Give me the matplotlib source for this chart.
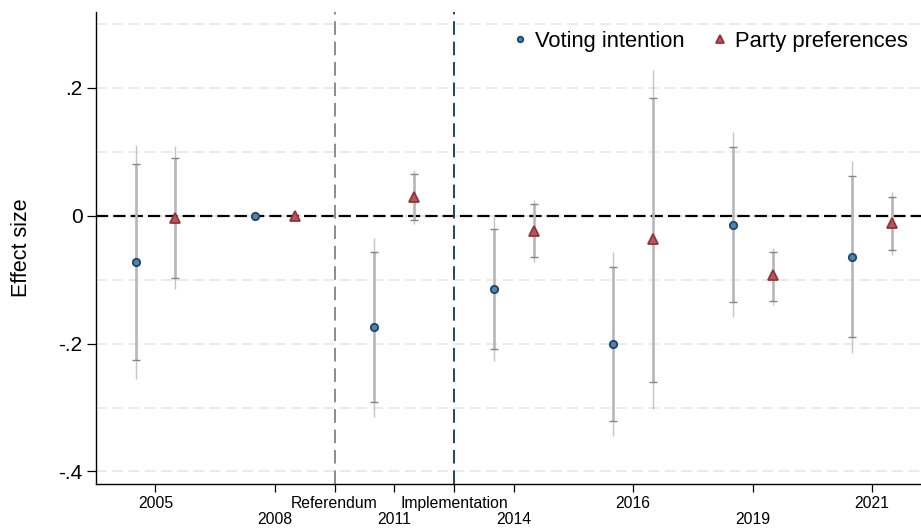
import numpy as np
import matplotlib.pyplot as plt

plt.rcParams['font.family'] = ['Liberation Sans', 'DejaVu Sans']

# positions of the survey years on the x axis
years = ["2005", "2008", "2011", "2014", "2016", "2019", "2021"]
pos = np.array([1, 2, 3, 4, 5, 6, 7])

# voting intention: estimate, inner (capped) and outer intervals
vote = [-0.073, 0.0, -0.174, -0.114, -0.201, -0.014, -0.064]
vote_lo_in = [-0.226, np.nan, -0.292, -0.208, -0.321, -0.135, -0.190]
vote_hi_in = [0.081, np.nan, -0.057, -0.020, -0.080, 0.108, 0.062]
vote_lo_out = [-0.256, np.nan, -0.315, -0.227, -0.345, -0.159, -0.214]
vote_hi_out = [0.111, np.nan, -0.034, -0.001, -0.057, 0.131, 0.086]

# party preferences
party = [-0.003, 0.0, 0.030, -0.023, -0.036, -0.093, -0.011]
party_lo_in = [-0.097, np.nan, -0.007, -0.065, -0.260, -0.133, -0.054]
party_hi_in = [0.090, np.nan, 0.065, 0.018, 0.184, -0.057, 0.030]
party_lo_out = [-0.115, np.nan, -0.013, -0.073, -0.303, -0.139, -0.062]
party_hi_out = [0.109, np.nan, 0.071, 0.025, 0.228, -0.051, 0.037]

events = ["Referendum", "Implementation"]
event_pos = [2.5, 3.5]
event_colors = ["#8c8c8c", "#1a476f"]

off = 1 / 6

fig = plt.figure(figsize=(9.21, 5.28), dpi=100)
ax = fig.add_axes([95.7 / 921, 44 / 528, 1 - 95.7 / 921, (484 - 11.7) / 528])

ax.set_xlim(0.5, 7.41)
ax.set_ylim(-0.4197, 0.3194)

# grid
for g in np.arange(-0.4, 0.31, 0.1):
    ax.axhline(g, color="#e8e8e8", lw=1.3, ls=(0, (6, 3)), zorder=0)
ax.axhline(0, color="black", lw=1.6, ls=(0, (5.5, 2.3)), zorder=1)
for xp, c in zip(event_pos, event_colors):
    ax.axvline(xp, color=c, lw=1.4, ls=(0, (7, 3.5)), zorder=1)


def draw(x, est, lo_in, hi_in, lo_out, hi_out, marker, fc, ec, ms, label):
    ax.vlines(x, lo_out, hi_out, color="#c4c4c4", lw=1.0, zorder=2)
    ax.vlines(x, lo_in, hi_in, color="#b8b8b8", lw=1.9, zorder=2)
    ax.plot(x, lo_in, ls="none", marker="_", ms=6, mew=1.0, color="#858585", zorder=3)
    ax.plot(x, hi_in, ls="none", marker="_", ms=6, mew=1.0, color="#858585", zorder=3)
    ax.plot(x, est, ls="none", marker=marker, ms=ms, mfc=fc, mec=ec, mew=1.3,
            zorder=4, label=label)


draw(pos - off, vote, vote_lo_in, vote_hi_in, vote_lo_out, vote_hi_out,
     "o", "#5a80aa", "#1a476f", 5.3, "Voting intention")
draw(pos + off, party, party_lo_in, party_hi_in, party_lo_out, party_hi_out,
     "^", "#b9555d", "#90353b", 7.0, "Party preferences")

# y axis
ax.set_yticks([-0.4, -0.2, 0, 0.2])
ax.set_yticklabels(["-.4", "-.2", "0", ".2"], fontsize=15)
ax.tick_params(axis="y", length=6.5, width=0.9, pad=3)
ax.set_ylabel("Effect size", fontsize=15.5, labelpad=19)

# x axis: two staggered rows of labels
row1 = [1, 2.5, 3.5, 5, 7]
row1_lab = ["2005", events[0], events[1], "2016", "2021"]
row2 = [2, 3, 4, 6]
row2_lab = ["2008", "2011", "2014", "2019"]
ax.set_xticks(row1)
ax.set_xticklabels(row1_lab, fontsize=11.3)
ax.set_xticks(row2, minor=True)
ax.set_xticklabels(row2_lab, minor=True, fontsize=11.3)
ax.tick_params(axis="x", which="major", length=5.8, width=0.9, pad=2.5)
ax.tick_params(axis="x", which="minor", length=5.8, width=0.9, pad=14)

for s in ["top", "right"]:
    ax.spines[s].set_visible(False)
ax.spines["left"].set_linewidth(1.0)
ax.spines["bottom"].set_linewidth(1.0)

ax.legend(loc="upper right", bbox_to_anchor=(0.984, 0.96), ncol=2,
          frameon=False, fontsize=15.8, markerscale=0.75, handlelength=0.8,
          handletextpad=0.3, columnspacing=1.2, borderpad=0,
          borderaxespad=0)

fig.savefig("out.png", dpi=100)
